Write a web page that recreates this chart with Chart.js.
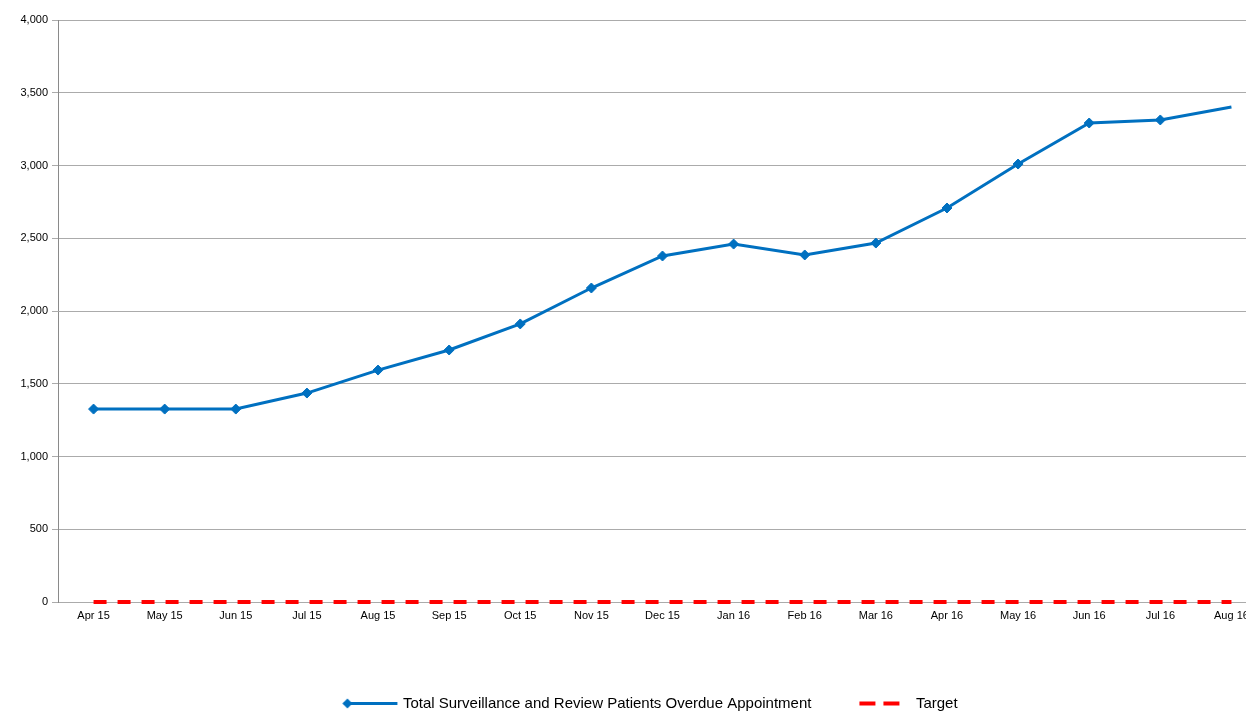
<!DOCTYPE html>
<html>
<head>
<meta charset="utf-8">
<script src="https://cdn.jsdelivr.net/npm/chart.js@4/dist/chart.umd.min.js"></script>
<style>
  html, body { margin: 0; padding: 0; overflow: hidden; background: #fff; }
  #wrap { position: absolute; left: 0; top: 0; }
</style>
</head>
<body>
<div id="wrap"><canvas id="c" width="1273" height="721"></canvas></div>
<script>
const months = ['Apr 15','May 15','Jun 15','Jul 15','Aug 15','Sep 15','Oct 15','Nov 15',
                'Dec 15','Jan 16','Feb 16','Mar 16','Apr 16','May 16','Jun 16','Jul 16','Aug 16'];
const overdue = [1326, 1326, 1326, 1436, 1594, 1732, 1911, 2158,
                 2378, 2460, 2385, 2467, 2708, 3010, 3292, 3313, 3402];
const target = [0, 0, 0, 0, 0, 0, 0, 0, 0, 0, 0, 0, 0, 0, 0, 0, 0];
const yTicks = [0, 500, 1000, 1500, 2000, 2500, 3000, 3500, 4000];

const BLUE = '#0070c0';
const RED = '#ff0000';
const GRID = '#ababab';

// legend swatches: a line with a diamond, and two red dashes
function swatch(draw) {
  const cv = document.createElement('canvas');
  cv.width = 90; cv.height = 15;
  draw(cv.getContext('2d'));
  return cv;
}
const blueSwatch = swatch(ctx => {
  ctx.strokeStyle = BLUE; ctx.lineWidth = 3;
  ctx.beginPath(); ctx.moveTo(33, 7.5); ctx.lineTo(87, 7.5); ctx.stroke();
  ctx.fillStyle = BLUE;
  ctx.beginPath(); ctx.moveTo(37, 2.5); ctx.lineTo(42, 7.5); ctx.lineTo(37, 12.5); ctx.lineTo(32, 7.5); ctx.closePath(); ctx.fill();
});
const redSwatch = swatch(ctx => {
  ctx.fillStyle = RED;
  ctx.fillRect(36, 5.5, 16, 4);
  ctx.fillRect(60, 5.5, 16, 4);
});

new Chart(document.getElementById('c'), {
  type: 'line',
  data: {
    labels: months,
    datasets: [
      {
        label: 'Total Surveillance and Review Patients Overdue Appointment',
        data: overdue,
        borderColor: BLUE,
        backgroundColor: BLUE,
        borderWidth: 3,
        pointStyle: 'rectRot',
        pointRadius: overdue.map((v, i) => i === overdue.length - 1 ? 0 : 5),
        pointBorderWidth: 1,
        tension: 0,
        clip: false
      },
      {
        label: 'Target',
        data: target,
        borderColor: RED,
        backgroundColor: RED,
        borderWidth: 4,
        borderDash: [13, 11],
        pointRadius: 0,
        tension: 0,
        clip: false
      }
    ]
  },
  options: {
    responsive: false,
    animation: false,
    layout: { padding: { top: 20, left: 0, right: 0, bottom: 0 } },
    plugins: {
      tooltip: { enabled: false },
      legend: {
        position: 'bottom',
        labels: {
          usePointStyle: true,
          pointStyleWidth: 80,
          padding: 17,
          color: '#000',
          font: { family: 'Liberation Sans, Arial, sans-serif', size: 15 },
          generateLabels(chart) {
            return chart.data.datasets.map((ds, i) => ({
              text: ds.label,
              pointStyle: i === 0 ? blueSwatch : redSwatch,
              fillStyle: ds.borderColor,
              strokeStyle: ds.borderColor,
              lineWidth: 0,
              hidden: false,
              datasetIndex: i,
              fontColor: '#000'
            }));
          }
        }
      }
    },
    scales: {
      x: {
        offset: true,
        grid: { display: false, drawTicks: false },
        border: { display: false },
        ticks: {
          color: '#000',
          padding: 7,
          maxRotation: 0,
          autoSkip: false,
          font: { family: 'Liberation Sans, Arial, sans-serif', size: 11 }
        },
        afterFit(scale) { scale.height = 77; }
      },
      y: {
        min: 0,
        max: 4000,
        afterBuildTicks(scale) { scale.ticks = yTicks.map(v => ({ value: v })); },
        grid: { color: GRID, lineWidth: 1, drawTicks: true, tickLength: 6 },
        border: { display: true, color: '#8a8a8a', width: 1 },
        ticks: {
          color: '#000',
          padding: 4,
          font: { family: 'Liberation Sans, Arial, sans-serif', size: 11 },
          callback: v => v.toLocaleString('en-US')
        },
        afterFit(scale) { scale.width = 58; }
      }
    }
  }
});
</script>
</body>
</html>
